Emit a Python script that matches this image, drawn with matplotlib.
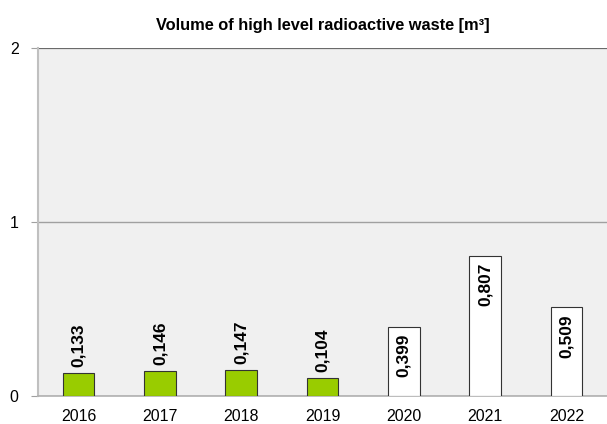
import matplotlib
matplotlib.use("Agg")
import matplotlib.pyplot as plt

plt.rcParams['font.family'] = ['Liberation Sans', 'DejaVu Sans']

years = ['2016', '2017', '2018', '2019', '2020', '2021', '2022']
volumes = [0.133, 0.146, 0.147, 0.104, 0.399, 0.807, 0.509]
labels = ['0,133', '0,146', '0,147', '0,104', '0,399', '0,807', '0,509']
is_final = [True, True, True, True, False, False, False]

fig = plt.figure(figsize=(6.07, 4.24), dpi=100)
ax = fig.add_axes([0.0626, 0.066, 0.9374, 0.821])
ax.set_facecolor('#f0f0f0')

x = range(len(years))
colors = ['#99cc00' if f else 'white' for f in is_final]
bars = ax.bar(x, volumes, width=0.39, color=colors, edgecolor='#333333', linewidth=0.8, zorder=3)

for i, (b, lab, f) in enumerate(zip(bars, labels, is_final)):
    h = b.get_height()
    if f:
        ax.text(i, h + 0.035, lab, rotation=90, ha='center', va='bottom',
                fontsize=12.5, fontweight='bold', zorder=4)
    else:
        ax.text(i, h - 0.04, lab, rotation=90, ha='center', va='top',
                fontsize=12.5, fontweight='bold', zorder=4)

ax.set_xlim(-0.5, 6.5)
ax.set_ylim(0, 2)
ax.set_yticks([0, 1, 2])
ax.set_xticks(list(x))
ax.set_xticklabels(years)
ax.grid(axis='y', color='#a0a0a0', linewidth=1, zorder=0)
ax.axhline(2, color='#606060', linewidth=1.2, zorder=2)

for s in ['top', 'right']:
    ax.spines[s].set_visible(False)
ax.spines['left'].set_color('#c0c0c0')
ax.spines['left'].set_linewidth(1.5)
ax.spines['bottom'].set_color('#b0b0b0')
ax.spines['bottom'].set_linewidth(1.2)

ax.tick_params(axis='x', length=0, labelsize=11.5, pad=9)
ax.tick_params(axis='y', length=5, color='#a0a0a0', labelsize=11.5, pad=9)

ax.set_title('Volume of high level radioactive waste [m³]', fontsize=11.8,
             fontweight='bold', pad=13)

fig.savefig('out.png', dpi=100)
